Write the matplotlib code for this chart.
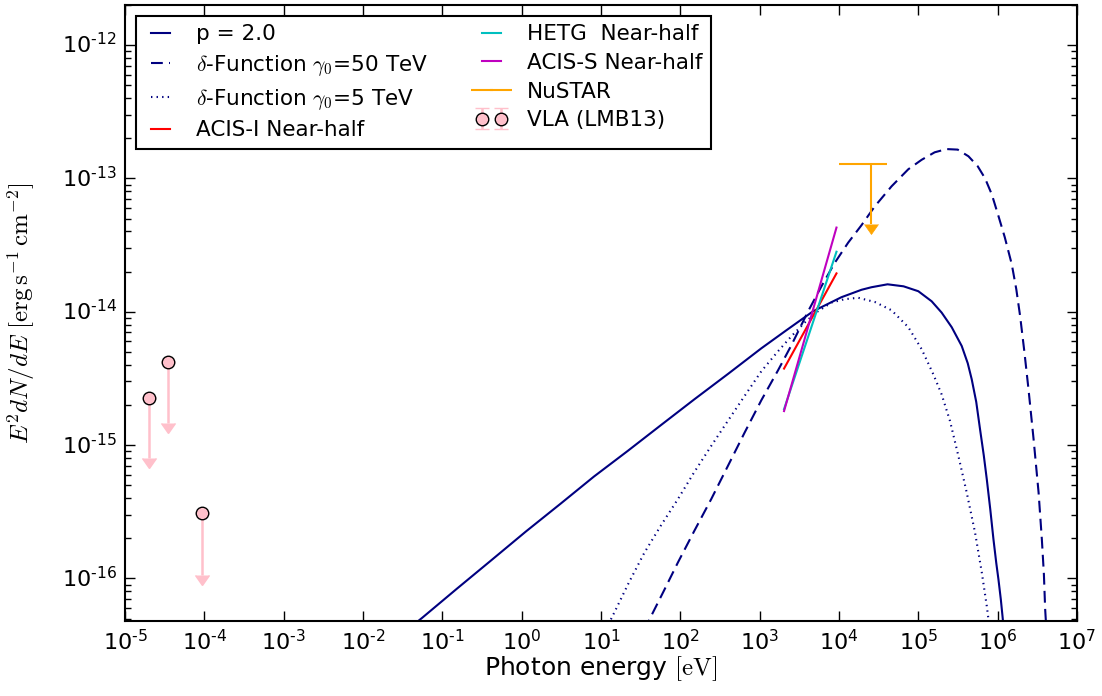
import matplotlib
matplotlib.use("Agg")
import matplotlib.pyplot as plt
import numpy as np
from matplotlib.ticker import FuncFormatter, NullFormatter

plt.style.use("classic")
plt.rcParams["font.family"] = ["DejaVu Sans"]
plt.rcParams["figure.facecolor"] = "white"
plt.rcParams["savefig.facecolor"] = "white"

# synchrotron model, p = 2.0
e_p2 = [0.0398, 0.0560, 0.152, 0.407, 1.127, 3.12, 8.15, 21.7, 57.3, 151, 402, 1050,
        2168, 4721, 1.074e4, 1.923e4, 2.57e4, 4.093e4, 6.516e4, 1.0e5, 1.472e5, 1.968e5, 2.636e5,
        3.524e5, 4.198e5, 4.71e5, 5.37e5, 5.998e5, 6.683e5, 7.295e5, 8.072e5, 8.851e5,
        9.616e5, 1.023e6, 1.096e6, 1.151e6, 1.194e6]
f_p2 = [4.31e-17, 5.08e-17, 8.36e-17, 1.357e-16, 2.246e-16, 3.65e-16, 5.81e-16, 9.04e-16, 1.416e-15, 2.21e-15, 3.43e-15, 5.32e-15,
        7.26e-15, 1.009e-14, 1.286e-14, 1.462e-14, 1.528e-14, 1.607e-14, 1.552e-14, 1.426e-14, 1.199e-14, 9.86e-15, 7.66e-15,
        5.54e-15, 4.11e-15, 3.12e-15, 2.11e-15, 1.315e-15, 8.39e-16, 5.55e-16, 3.30e-16, 1.97e-16,
        1.30e-16, 9.86e-17, 6.98e-17, 5.23e-17, 4.16e-17]

# delta function, gamma0 = 50 TeV
e_d50 = [34.9, 41.9, 62.5, 93.1, 149.3, 244.9, 401.8, 645.7, 1050, 1706, 2512, 4083, 6012, 8770,
         1.306e4, 1.923e4, 2.831e4, 4.603e4, 7.482e4, 1.102e5, 1.607e5, 2.275e5, 3.133e5, 4.285e5,
         5.61e5, 6.934e5, 8.433e5, 1.023e6, 1.23e6, 1.507e6, 1.718e6, 1.919e6, 2.168e6, 2.449e6,
         2.838e6, 3.281e6, 3.606e6, 3.828e6, 3.972e6, 4.111e6]
f_d50 = [4.08e-17, 5.08e-17, 8.15e-17, 1.315e-16, 2.26e-16, 3.93e-16, 7.06e-16, 1.24e-15, 2.17e-15, 3.64e-15, 5.61e-15, 1.009e-14, 1.552e-14, 2.31e-14,
         3.30e-14, 4.46e-14, 6.18e-14, 8.73e-14, 1.172e-13, 1.38e-13, 1.57e-13, 1.66e-13, 1.645e-13, 1.466e-13,
         1.233e-13, 1.002e-13, 7.60e-14, 5.23e-14, 3.62e-14, 2.27e-14, 1.476e-14, 9.30e-15, 5.06e-15, 2.62e-15,
         1.107e-15, 4.41e-16, 1.97e-16, 1.074e-16, 5.87e-17, 4.16e-17]

# delta function, gamma0 = 5 TeV
e_d5 = [11.56, 14.72, 22.54, 35.24, 57.3, 93.1, 149.3, 244.9, 401.8, 645.7, 1050, 1706, 2512, 3698,
        5188, 8035, 1.172e4, 1.746e4, 2.831e4, 4.603e4, 7.482e4, 1.102e5, 1.545e5, 1.968e5, 2.506e5,
        3.199e5, 4.074e5, 5.188e5, 6.31e5, 7.295e5, 7.943e5]
f_d5 = [4.16e-17, 5.55e-17, 9.35e-17, 1.56e-16, 2.51e-16, 3.93e-16, 6.25e-16, 9.85e-16, 1.535e-15, 2.336e-15, 3.58e-15, 5.06e-15, 6.55e-15, 8.30e-15,
        9.91e-15, 1.172e-14, 1.242e-14, 1.274e-14, 1.184e-14, 1.026e-14, 7.66e-15, 5.24e-15, 3.40e-15, 2.40e-15, 1.52e-15,
        8.29e-16, 4.41e-16, 2.21e-16, 1.11e-16, 6.21e-17, 4.16e-17]

# X-ray power-law fits
e_xray = [2030, 9300]
f_acis_i = [3.75e-15, 1.94e-14]
f_hetg = [1.86e-15, 2.82e-14]
f_acis_s = [1.80e-15, 4.28e-14]

# NuSTAR upper limit
e_nustar = 25e3
e_nustar_err = 15e3
f_nustar = 1.28e-13
f_nustar_low = 4.53e-14

# VLA upper limits (LMB13)
e_vla = [2.0e-5, 3.5e-5, 9.3e-5]
f_vla = [2.26e-15, 4.20e-15, 3.08e-16]
f_vla_low = [7.96e-16, 1.47e-15, 1.07e-16]


def log_label(v, pos):
    exp = int(round(np.log10(v)))
    s = str(abs(exp))
    if exp < 0:
        s = "\u2010" + s  # short hyphen like the old style
    return r"$\mathdefault{10^{%s}}$" % s


fig = plt.figure(figsize=(11.02, 6.96), dpi=100)
ax = fig.add_axes([0.1134, 0.1078, 0.8639, 0.8851])

ax.plot(e_p2, f_p2, color="navy", lw=1.5, label="p = 2.0")
ax.plot(e_d50, f_d50, color="navy", lw=1.5, linestyle=(0, (8.5, 4.5)),
        label=r"$\delta$-Function $\gamma_0$=50 TeV")
ax.plot(e_d5, f_d5, color="navy", lw=1.5, linestyle=(0, (1, 3)),
        label=r"$\delta$-Function $\gamma_0$=5 TeV")
ax.plot(e_xray, f_acis_i, color="red", lw=1.5, label="ACIS-I Near-half")
ax.plot(e_xray, f_hetg, color="c", lw=1.5, label="HETG  Near-half")
ax.plot(e_xray, f_acis_s, color="m", lw=1.5, label="ACIS-S Near-half")

ax.errorbar([e_nustar], [f_nustar], xerr=[e_nustar_err], fmt="none",
            ecolor="orange", elinewidth=1.5, capsize=0, label="NuSTAR")
eb = ax.errorbar([e_nustar], [f_nustar], yerr=[f_nustar - f_nustar_low], uplims=True,
                 fmt="none", ecolor="orange", elinewidth=1.5, capsize=4.7)
for cl in eb[1]:
    cl.set_markerfacecolor("orange")
    cl.set_markeredgecolor("orange")

vla_err = [f - lo for f, lo in zip(f_vla, f_vla_low)]
eb = ax.errorbar(e_vla, f_vla, yerr=vla_err, uplims=True, fmt="o", ms=9,
                 mfc="pink", mec="black", mew=1, ecolor="pink", elinewidth=1.8,
                 capsize=4.7, label="VLA (LMB13)")
for cl in eb[1]:
    cl.set_markerfacecolor("pink")
    cl.set_markeredgecolor("pink")

ax.set_xscale("log")
ax.set_yscale("log")
ax.set_xlim(1e-5, 1e7)
ax.set_ylim(4.8e-17, 2e-12)
ax.xaxis.set_major_formatter(FuncFormatter(log_label))
ax.yaxis.set_major_formatter(FuncFormatter(log_label))
ax.xaxis.set_minor_formatter(NullFormatter())
ax.yaxis.set_minor_formatter(NullFormatter())

ax.tick_params(axis="both", which="major", labelsize=16, length=7, width=1, pad=6)
ax.tick_params(axis="both", which="minor", length=4, width=1)
for s in ax.spines.values():
    s.set_linewidth(1.5)

ax.set_xlabel(r"Photon energy $[\mathrm{eV}]$", fontsize=18, labelpad=0)
ax.set_ylabel(r"$E^2dN/dE\ [\mathrm{erg\,s^{-1}\,cm^{-2}}]$", fontsize=18, labelpad=18)

leg = ax.legend(loc="upper left", ncol=2, fontsize=15.5, numpoints=2,
                frameon=True, fancybox=False, labelspacing=0.4,
                handlelength=1.5, handletextpad=0.9, columnspacing=2.2,
                borderaxespad=0.5)
leg.get_frame().set_linewidth(1.5)
leg.get_frame().set_edgecolor("black")

fig.savefig("out.png", dpi=100)
